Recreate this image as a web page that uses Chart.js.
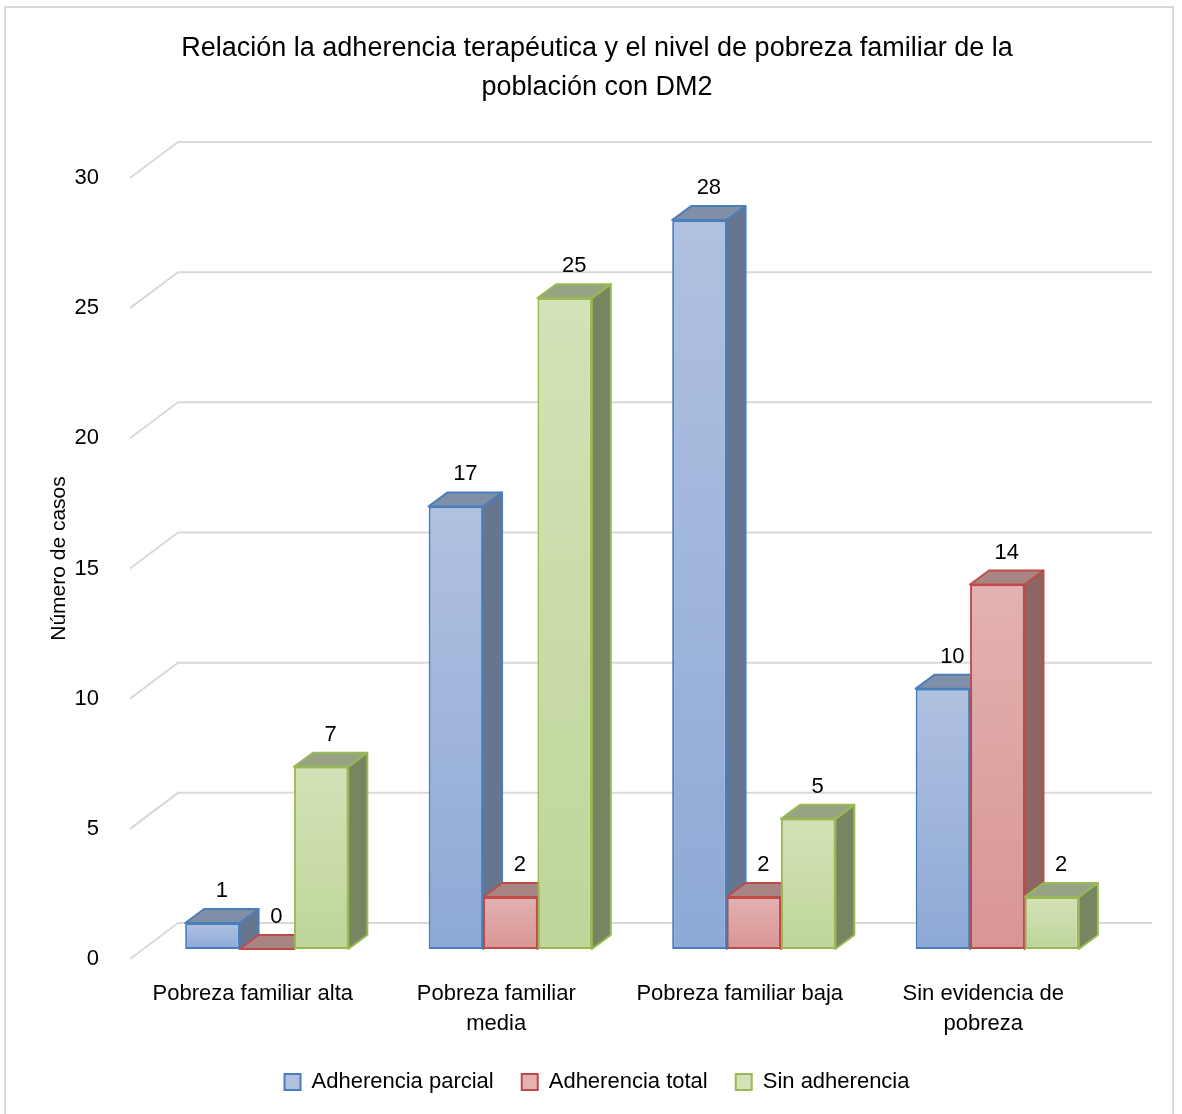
<!DOCTYPE html>
<html>
<head>
    <title>Adherencia terapéutica y pobreza familiar</title>
    <script src="https://cdn.jsdelivr.net/npm/chart.js@4.4.0/dist/chart.umd.min.js"></script>
    <style>
        body {
            margin: 0;
            background: #fff;
        }
        .frame {
            position: absolute;
            left: 4px;
            top: 6px;
            width: 1166px;
            height: 1120px;
            border: 2px solid #d9d9d9;
        }
        .chart-container {
            position: relative;
            width: 1182px;
            height: 1114px;
        }
    </style>
</head>
<body>
    <div class="frame"></div>
    <div class="chart-container">
        <canvas id="chart"></canvas>
    </div>

    <script>
        // data
        const categories = ['Pobreza familiar alta', ['Pobreza familiar', 'media'], 'Pobreza familiar baja', ['Sin evidencia de', 'pobreza']];
        const seriesNames = ['Adherencia parcial', 'Adherencia total', 'Sin adherencia'];
        const adherenciaParcial = [1, 17, 28, 10];
        const adherenciaTotal = [0, 2, 2, 14];
        const sinAdherencia = [7, 25, 5, 2];
        const yMin = 0, yMax = 30, yStep = 5;

        // colours per series: border, front top, front bottom, side, top
        const palette = [
            { border: '#4a7ebb', light: '#b0c1e0', dark: '#8ea9d6', side: '#66768f', top: '#808fa8' },
            { border: '#be4b48', light: '#e3b2b1', dark: '#d89593', side: '#8d6664', top: '#a88584' },
            { border: '#98b954', light: '#d3e2b7', dark: '#bfd59a', side: '#778660', top: '#96a483' }
        ];

        const FONT = '"Liberation Sans", Arial, sans-serif';
        const DEPTH_X = 19, DEPTH_Y = -14;     // bar depth
        const WALL_X = 48, WALL_Y = -36;       // wall depth for gridlines

        function frontFill(c) {
            return (ctx) => {
                const chart = ctx.chart;
                if (ctx.type !== 'data' || !chart.chartArea) return c.light;
                const ys = chart.scales.y;
                const y0 = ys.getPixelForValue(ctx.raw);
                const y1 = ys.getPixelForValue(0);
                if (y1 - y0 < 2) return c.light;
                const g = chart.ctx.createLinearGradient(0, y0, 0, y1);
                g.addColorStop(0, c.light);
                g.addColorStop(1, c.dark);
                return g;
            };
        }

        function poly(ctx, pts, fill, stroke) {
            ctx.beginPath();
            ctx.moveTo(pts[0][0], pts[0][1]);
            for (let i = 1; i < pts.length; i++) ctx.lineTo(pts[i][0], pts[i][1]);
            ctx.closePath();
            ctx.fillStyle = fill;
            ctx.fill();
            ctx.strokeStyle = stroke;
            ctx.lineWidth = 2;
            ctx.lineJoin = 'round';
            ctx.stroke();
        }

        // 3d walls, side and top faces, value labels
        const bars3d = {
            id: 'bars3d',
            beforeDatasetsDraw(chart) {
                const ctx = chart.ctx;
                const area = chart.chartArea;
                const ys = chart.scales.y;
                ctx.save();
                ctx.strokeStyle = '#d9d9d9';
                ctx.lineWidth = 2;
                ys.ticks.forEach(t => {
                    const yp = ys.getPixelForValue(t.value);
                    ctx.beginPath();
                    ctx.moveTo(area.left - 15, yp + 10);
                    ctx.lineTo(area.left - 15 + WALL_X, yp + 10 + WALL_Y);
                    ctx.lineTo(area.right + 33, yp + 10 + WALL_Y);
                    ctx.stroke();
                });
                chart.data.datasets.forEach((ds, d) => {
                    const c = palette[d];
                    chart.getDatasetMeta(d).data.forEach(el => {
                        const p = el.getProps(['x', 'y', 'base', 'width'], true);
                        const l = p.x - p.width / 2, r = p.x + p.width / 2;
                        poly(ctx, [[r, p.y], [r + DEPTH_X, p.y + DEPTH_Y], [r + DEPTH_X, p.base + DEPTH_Y], [r, p.base]], c.side, c.border);
                        poly(ctx, [[l, p.y], [l + DEPTH_X, p.y + DEPTH_Y], [r + DEPTH_X, p.y + DEPTH_Y], [r, p.y]], c.top, c.border);
                    });
                });
                ctx.restore();
            },
            afterDatasetsDraw(chart) {
                const ctx = chart.ctx;
                ctx.save();
                ctx.font = '22px ' + FONT;
                ctx.fillStyle = '#000';
                ctx.textAlign = 'center';
                ctx.textBaseline = 'middle';
                chart.data.datasets.forEach((ds, d) => {
                    chart.getDatasetMeta(d).data.forEach((el, i) => {
                        const p = el.getProps(['x', 'y'], true);
                        ctx.fillText(String(ds.data[i]), p.x + DEPTH_X / 2, p.y + DEPTH_Y - 18);
                    });
                });
                ctx.restore();
            }
        };

        const seriesData = [adherenciaParcial, adherenciaTotal, sinAdherencia];

        const chart = new Chart(document.getElementById('chart'), {
            type: 'bar',
            data: {
                labels: categories,
                datasets: seriesNames.map((name, i) => ({
                    label: name,
                    data: seriesData[i],
                    backgroundColor: frontFill(palette[i]),
                    borderColor: palette[i].border,
                    borderWidth: 2,
                    borderSkipped: false,
                    categoryPercentage: 0.67,
                    barPercentage: 1.0
                }))
            },
            options: {
                responsive: true,
                maintainAspectRatio: false,
                animation: false,
                layout: {
                    padding: { left: 12, right: 0, top: 0, bottom: 11 }
                },
                scales: {
                    x: {
                        grid: { display: false },
                        border: { display: false },
                        ticks: {
                            color: '#000',
                            font: { family: FONT, size: 22, lineHeight: 1.36 },
                            padding: 22,
                            labelOffset: -14,
                            maxRotation: 0,
                            autoSkip: false
                        },
                        afterFit(scale) { scale.height = 94; }
                    },
                    y: {
                        min: yMin,
                        max: yMax,
                        grid: { display: false },
                        border: { display: false },
                        ticks: {
                            stepSize: yStep,
                            color: '#000',
                            font: { family: FONT, size: 22 },
                            padding: 38,
                            labelOffset: 10
                        },
                        title: {
                            display: true,
                            text: 'Número de casos',
                            color: '#000',
                            font: { family: FONT, size: 21 },
                            padding: { top: 35, bottom: 0 }
                        },
                        afterFit(scale) { scale.width = 133; }
                    },
                    yRight: {
                        type: 'linear',
                        position: 'right',
                        grid: { display: false },
                        border: { display: false },
                        ticks: { display: false },
                        afterFit(scale) { scale.width = 63; }
                    }
                },
                plugins: {
                    title: {
                        display: true,
                        text: ['Relación la adherencia terapéutica y el nivel de pobreza familiar de la', 'población con DM2'],
                        color: '#000',
                        font: { family: FONT, size: 27, weight: 'normal', lineHeight: 1.444 },
                        padding: { top: 29, bottom: 61 }
                    },
                    legend: {
                        position: 'bottom',
                        labels: {
                            boxWidth: 16,
                            boxHeight: 16,
                            padding: 28,
                            color: '#000',
                            font: { family: FONT, size: 22 },
                            generateLabels: () => seriesNames.map((name, i) => ({
                                text: name,
                                fillStyle: palette[i].light,
                                strokeStyle: palette[i].border,
                                lineWidth: 2,
                                datasetIndex: i,
                                fontColor: '#000'
                            }))
                        }
                    },
                    tooltip: { enabled: false }
                }
            },
            plugins: [bars3d]
        });
    </script>
</body>
</html>
